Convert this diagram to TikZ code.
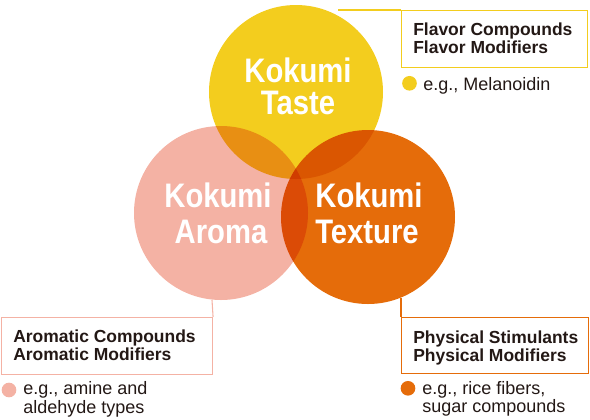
\documentclass[tikz,border=0pt]{standalone}
\usepackage{fontspec}
\setmainfont{Liberation Sans}
\newfontfamily\kokufont[FakeStretch=0.86]{Liberation Sans}
\definecolor{tasteyellow}{RGB}{243,205,30}
\definecolor{aromapink}{RGB}{244,178,164}
\definecolor{textureorange}{RGB}{229,108,10}
\definecolor{inkdark}{RGB}{35,24,21}
\tikzset{
  blob/.style={circle,inner sep=0pt,minimum size=130.5pt,fill=#1,blend mode=multiply},
  infobox/.style={draw=#1,line width=0.8pt,inner sep=0pt,anchor=north west},
  link/.style={draw=#1,line width=0.8pt},
  dot/.style={circle,inner sep=0pt,minimum size=11pt,fill=#1},
  kokulabel/.style={text=white,inner sep=0pt,anchor=base,font=\kokufont\bfseries\fontsize{25.5}{25.5}\selectfont},
  boxtext/.style={text=inkdark,inner sep=0pt,anchor=base west,font=\bfseries\fontsize{13.1}{13.1}\selectfont},
  notetext/.style={text=inkdark,inner sep=0pt,anchor=base west,font=\fontsize{13.5}{13.5}\selectfont}
}
\begin{document}
\begin{tikzpicture}[x=0.75pt,y=0.75pt,yscale=-1,xscale=1]
\useasboundingbox (0,0) rectangle (590,419);
%Shape: Circle [id:taste]
\node [blob=tasteyellow] (taste) at (296,92) {};
%Shape: Circle [id:aroma]
\node [blob=aromapink] (aroma) at (221,213) {};
%Shape: Circle [id:texture]
\node [blob=textureorange] (texture) at (368,217) {};
%Shape: Rectangle [id:flavorbox]
\node [infobox=tasteyellow,minimum width=139.5pt,minimum height=42.75pt] (flavorbox) at (401,10) {};
%Shape: Rectangle [id:aromabox]
\node [infobox=aromapink,minimum width=158.25pt,minimum height=42.75pt] (aromabox) at (1,317) {};
%Shape: Rectangle [id:physbox]
\node [infobox=textureorange,minimum width=140.25pt,minimum height=42pt] (physbox) at (401,317) {};
%Straight Lines
\coordinate (tastetip) at (338,10);
\draw [link=tasteyellow] (tastetip) -- (flavorbox.north west);
\coordinate (aromafoot) at (212,300);
\draw [link=aromapink] (aromafoot) -- (aromabox.north east);
\coordinate (texturefoot) at (401,298);
\draw [link=textureorange] (texturefoot) -- (physbox.north west);
%Shape: Dots
\node [dot=tasteyellow] (tastedot) at (409.5,83.3) {};
\node [dot=aromapink] (aromadot) at (9,390) {};
\node [dot=textureorange] (texturedot) at (408,388.3) {};
% Text Node
\node [kokulabel] (tastekoku) at (298,82) {Kokumi};
\node [kokulabel] (tastename) at (298,114) {Taste};
\node [kokulabel] (aromakoku) at (218,207) {Kokumi};
\node [kokulabel] (aromaname) at (221,243) {Aroma};
\node [kokulabel] (texturekoku) at (369,207) {Kokumi};
\node [kokulabel] (texturename) at (367,243) {Texture};
% Text Node
\node [boxtext] (flavorA) at (413,35) {Flavor Compounds};
\node [boxtext] (flavorB) at (413,53) {Flavor Modifiers};
\node [notetext] (flavornote) at (423,90) {e.g., Melanoidin};
% Text Node
\node [boxtext] (aromaA) at (13,342.7) {Aromatic Compounds};
\node [boxtext] (aromaB) at (13,360) {Aromatic Modifiers};
\node [notetext] (aromanoteA) at (23,394.5) {e.g., amine and};
\node [notetext] (aromanoteB) at (23,413.3) {aldehyde types};
% Text Node
\node [boxtext] (physA) at (413,343.3) {Physical Stimulants};
\node [boxtext] (physB) at (413,361) {Physical Modifiers};
\node [notetext] (physnoteA) at (422,394.5) {e.g., rice fibers,};
\node [notetext] (physnoteB) at (422,412) {sugar compounds};
\end{tikzpicture}
\end{document}
